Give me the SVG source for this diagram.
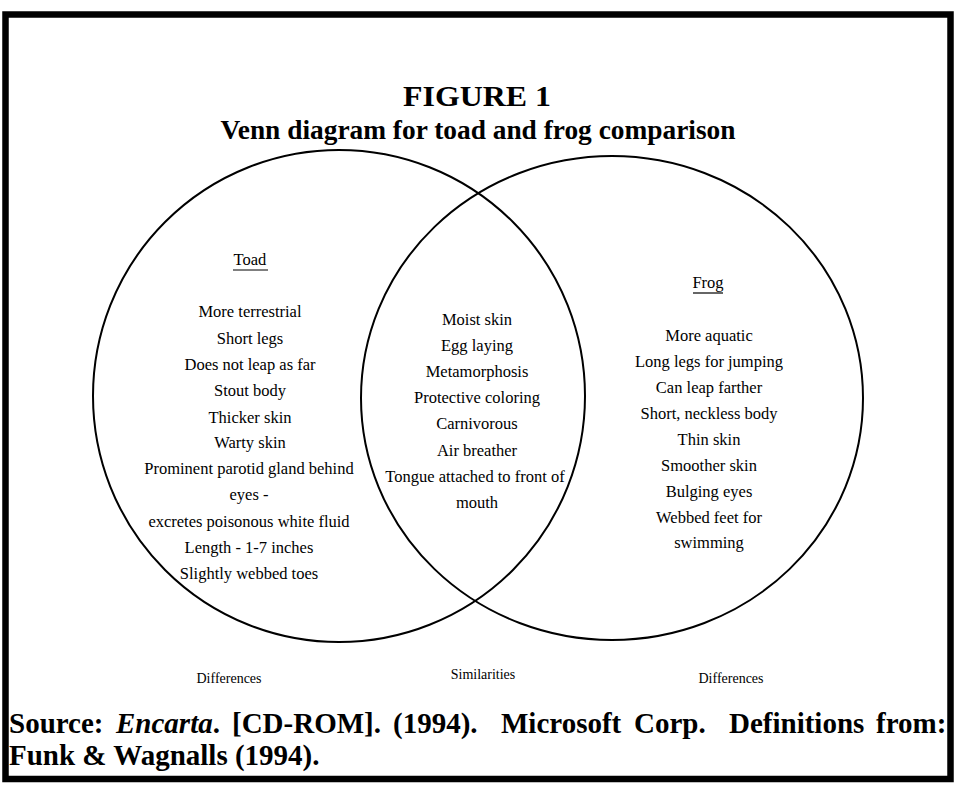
<svg xmlns="http://www.w3.org/2000/svg" width="954" height="791" viewBox="0 0 954 791">
<style>
.t{font-family:"Liberation Serif","Times New Roman",serif;font-size:16.5px;fill:#000;text-anchor:middle}
.s{font-family:"Liberation Serif","Times New Roman",serif;font-size:14px;fill:#000;text-anchor:middle}
.h{font-family:"Liberation Serif","Times New Roman",serif;font-weight:bold;fill:#000;text-anchor:middle}
.src{font-family:"Liberation Serif","Times New Roman",serif;font-weight:bold;font-size:29px;fill:#000}
.c{fill:none;stroke:#000;stroke-width:2}
</style>
<rect x="0" y="0" width="954" height="791" fill="#fff"/>
<rect x="5.5" y="14.5" width="945" height="764.5" fill="none" stroke="#000" stroke-width="6.5"/>
<g id="title">
<text class="h" x="477" y="106" font-size="29" textLength="148" lengthAdjust="spacingAndGlyphs">FIGURE 1</text>
<text class="h" x="478" y="139" font-size="28" textLength="515" lengthAdjust="spacingAndGlyphs">Venn diagram for toad and frog comparison</text>
</g>
<g id="circles">
<ellipse id="toad-circle" class="c" cx="339" cy="396" rx="246" ry="246"/>
<ellipse id="frog-circle" class="c" cx="612" cy="398" rx="251" ry="242"/>
</g>
<g id="toad">
<text class="t" x="250" y="265">Toad</text>
<line x1="233" y1="270" x2="268" y2="270" stroke="#000" stroke-width="1.2"/>
<text class="t" x="250" y="317">More terrestrial</text>
<text class="t" x="250" y="344">Short legs</text>
<text class="t" x="250" y="370">Does not leap as far</text>
<text class="t" x="250" y="396">Stout body</text>
<text class="t" x="250" y="423">Thicker skin</text>
<text class="t" x="250" y="448">Warty skin</text>
<text class="t" x="249" y="474">Prominent parotid gland behind</text>
<text class="t" x="249" y="500">eyes -</text>
<text class="t" x="249" y="527">excretes poisonous white fluid</text>
<text class="t" x="249" y="553">Length - 1-7 inches</text>
<text class="t" x="249" y="579">Slightly webbed toes</text>
</g>
<g id="both">
<text class="t" x="477" y="325">Moist skin</text>
<text class="t" x="477" y="351">Egg laying</text>
<text class="t" x="477" y="377">Metamorphosis</text>
<text class="t" x="477" y="403">Protective coloring</text>
<text class="t" x="477" y="429">Carnivorous</text>
<text class="t" x="477" y="456">Air breather</text>
<text class="t" x="475" y="482">Tongue attached to front of</text>
<text class="t" x="477" y="508">mouth</text>
</g>
<g id="frog">
<text class="t" x="708" y="288">Frog</text>
<line x1="693" y1="293" x2="723" y2="293" stroke="#000" stroke-width="1.2"/>
<text class="t" x="709" y="341">More aquatic</text>
<text class="t" x="709" y="367">Long legs for jumping</text>
<text class="t" x="709" y="393">Can leap farther</text>
<text class="t" x="709" y="419">Short, neckless body</text>
<text class="t" x="709" y="445">Thin skin</text>
<text class="t" x="709" y="471">Smoother skin</text>
<text class="t" x="709" y="497">Bulging eyes</text>
<text class="t" x="709" y="523">Webbed feet for</text>
<text class="t" x="709" y="548">swimming</text>
</g>
<g id="labels">
<text class="s" x="229" y="683">Differences</text>
<text class="s" x="483" y="679">Similarities</text>
<text class="s" x="731" y="683">Differences</text>
</g>
<g id="source">
<text class="src" y="733"><tspan x="9">Source:</tspan><tspan x="116" font-style="italic">Encarta</tspan><tspan>.</tspan><tspan x="232">[CD-ROM].</tspan><tspan x="393">(1994).</tspan><tspan x="501">Microsoft</tspan><tspan x="634">Corp.</tspan><tspan x="729">Definitions</tspan><tspan x="876">from:</tspan></text>
<text class="src" x="9" y="765">Funk &amp; Wagnalls (1994).</text>
</g>
</svg>
